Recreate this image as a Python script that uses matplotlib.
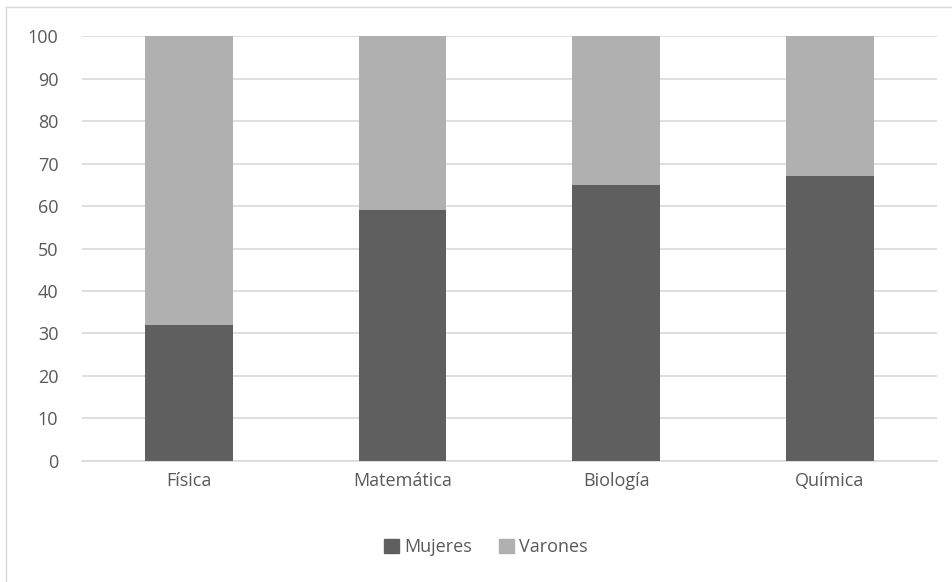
import matplotlib.pyplot as plt
from matplotlib.lines import Line2D
from matplotlib.patches import Patch
import numpy as np

categorias = ["Física", "Matemática", "Biología", "Química"]
mujeres = [32, 59, 65, 67]
varones = [68, 41, 35, 33]

c_muj = "#5f5f5f"
c_var = "#b0b0b0"
c_txt = "#595959"

plt.rcParams['font.family'] = ['Open Sans', 'DejaVu Sans']

fig = plt.figure(figsize=(9.53, 5.82), dpi=100)
ax = fig.add_axes([0.086, 0.208, 0.897, 0.730])

x = np.arange(len(categorias))
ax.bar(x, mujeres, width=0.41, color=c_muj, zorder=3)
ax.bar(x, varones, width=0.41, bottom=mujeres, color=c_var, zorder=3)

ax.set_xlim(-0.5, len(categorias) - 0.5)
ax.set_ylim(0, 100)
ax.set_yticks(range(0, 101, 10))
ax.set_xticks(x)
ax.set_xticklabels(categorias)
ax.grid(axis='y', color='#d9d9d9', linewidth=1.2, zorder=0)
for s in ['top', 'right', 'left']:
    ax.spines[s].set_visible(False)
ax.spines['bottom'].set_color('#d9d9d9')
ax.spines['bottom'].set_linewidth(1.2)
ax.tick_params(length=0, colors=c_txt, labelsize=13)
ax.tick_params(axis='y', pad=17)
ax.tick_params(axis='x', pad=8)

handles = [Patch(color=c_muj), Patch(color=c_var)]
fig.legend(handles, ["Mujeres", "Varones"], loc='center', bbox_to_anchor=(0.51, 0.06),
           ncol=2, frameon=False, fontsize=13, labelcolor=c_txt,
           handlelength=0.8, handleheight=0.8, handletextpad=0.3, columnspacing=1.5)

# borde del área del gráfico (solo izquierda y arriba visibles)
fig.add_artist(Line2D([0.0065, 0.0065], [0, 0.988], transform=fig.transFigure,
                      color='#d9d9d9', linewidth=1))
fig.add_artist(Line2D([0.0065, 1], [0.988, 0.988], transform=fig.transFigure,
                      color='#d9d9d9', linewidth=1))

fig.savefig("out.png", dpi=100)
